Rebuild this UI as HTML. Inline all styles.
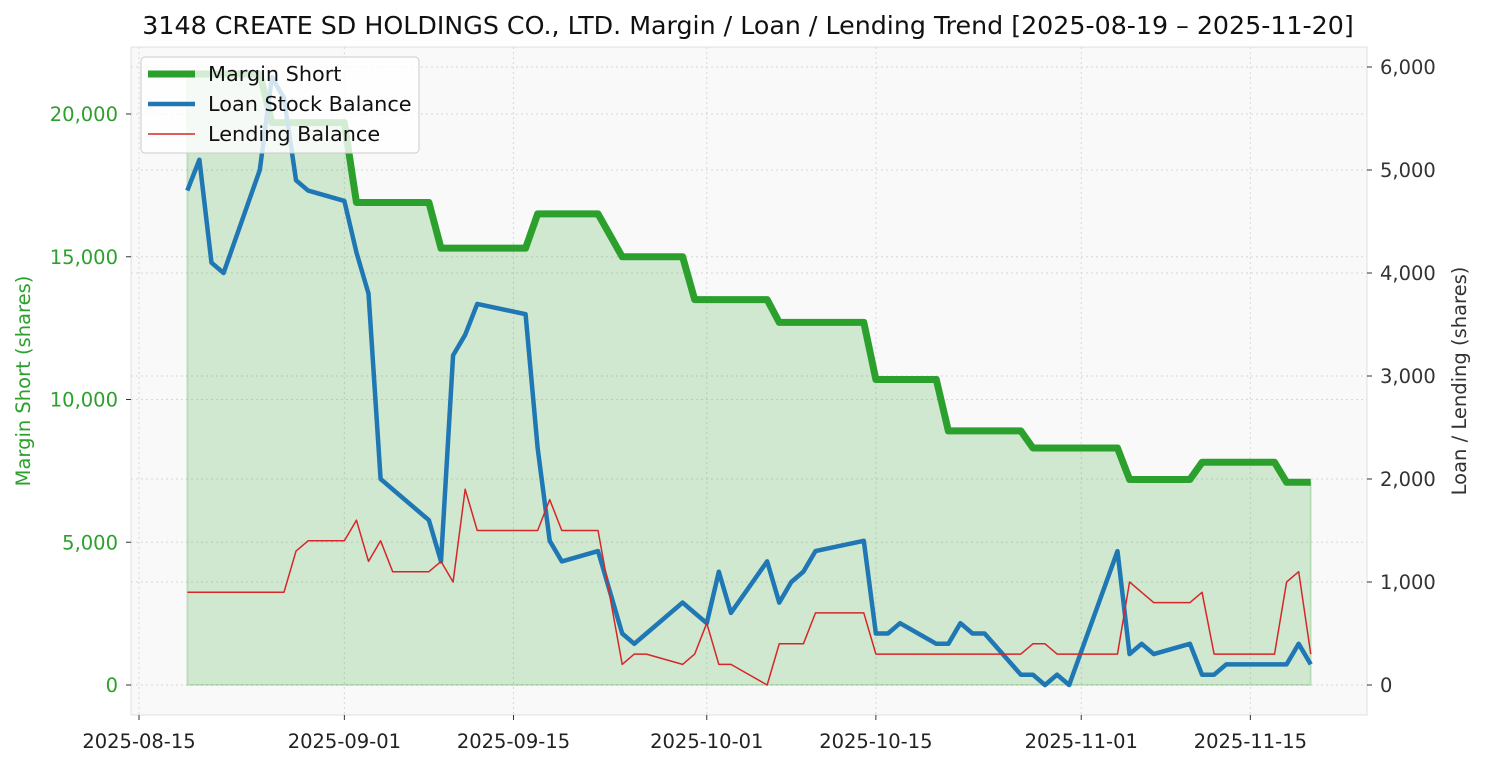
<!DOCTYPE html>
<html><head><meta charset="utf-8"><style>
body{margin:0;background:#fff;font-family:"Liberation Sans","DejaVu Sans",sans-serif;}
svg text{font-family:"DejaVu Sans","Liberation Sans",sans-serif;}
</style></head><body>
<svg id="c" width="1485" height="765" xmlns="http://www.w3.org/2000/svg">
<rect x="0" y="0" width="1485" height="765" fill="#fff"/>
<rect x="131" y="47" width="1236" height="668" fill="#f9f9f9" stroke="#e0e0e0"/>
<text x="748" y="34" font-size="25.3" text-anchor="middle" fill="#111">3148 CREATE SD HOLDINGS CO., LTD. Margin / Loan / Lending Trend [2025-08-19 – 2025-11-20]</text>
<g id="grid"></g><g id="fill"></g><g id="lines"></g><g id="axes"></g>
<text transform="translate(30,381) rotate(-90)" font-size="19.5" text-anchor="middle" fill="#2ca02c">Margin Short (shares)</text>
<text transform="translate(1466,381) rotate(-90)" font-size="19.5" text-anchor="middle" fill="#333">Loan / Lending (shares)</text>
<g>
<rect x="141" y="57" width="278" height="96" rx="4" fill="#fff" fill-opacity="0.8" stroke="#ccc"/>
<line x1="148" y1="74" x2="195" y2="74" stroke="#2ca02c" stroke-width="7"/>
<text x="208" y="81" font-size="20.8" fill="#111">Margin Short</text>
<line x1="148" y1="104" x2="195" y2="104" stroke="#1f77b4" stroke-width="4.5"/>
<text x="208" y="111" font-size="20.8" fill="#111">Loan Stock Balance</text>
<line x1="148" y1="134" x2="195" y2="134" stroke="#d62728" stroke-width="1.5"/>
<text x="208" y="141" font-size="20.8" fill="#111">Lending Balance</text>
</g>
</svg>
<script>
const dates=["08-19","08-20","08-21","08-22","08-25","08-26","08-27","08-28","08-29",
"09-01","09-02","09-03","09-04","09-05","09-08","09-09","09-10","09-11","09-12","09-16","09-17","09-18","09-19","09-22","09-24","09-25","09-26","09-29","09-30",
"10-01","10-02","10-03","10-06","10-07","10-08","10-09","10-10","10-14","10-15","10-16","10-17","10-20","10-21","10-22","10-23","10-24","10-27","10-28","10-29","10-30","10-31",
"11-04","11-05","11-06","11-07","11-10","11-11","11-12","11-13","11-14","11-17","11-18","11-19","11-20"];
const marginShort=[21400,21400,21400,21400,21400,19700,19700,19700,19700,
19700,16900,16900,16900,16900,16900,15300,15300,15300,15300,15300,16500,16500,16500,16500,15000,15000,15000,15000,13500,
13500,13500,13500,13500,12700,12700,12700,12700,12700,10700,10700,10700,10700,8900,8900,8900,8900,8900,8300,8300,8300,8300,
8300,7200,7200,7200,7200,7800,7800,7800,7800,7800,7100,7100,7100];
const loanStock=[4800,5100,4100,4000,5000,5900,5700,4900,4800,
4700,4200,3800,2000,1900,1600,1200,3200,3400,3700,3600,2300,1400,1200,1300,500,400,500,800,700,
600,1100,700,1200,800,1000,1100,1300,1400,500,500,600,400,400,600,500,500,100,100,0,100,0,
1300,300,400,300,400,100,100,200,200,200,200,400,200];
const lending=[900,900,900,900,900,900,900,1300,1400,
1400,1600,1200,1400,1100,1100,1200,1000,1900,1500,1500,1500,1800,1500,1500,200,300,300,200,300,
600,200,200,0,400,400,400,700,700,300,300,300,300,300,300,300,300,300,400,400,300,300,
300,1000,900,800,800,900,300,300,300,300,1000,1100,300];
const leftTicks=[0,5000,10000,15000,20000];
const rightTicks=[0,1000,2000,3000,4000,5000,6000];
const xTicks=["2025-08-15","2025-09-01","2025-09-15","2025-10-01","2025-10-15","2025-11-01","2025-11-15"];

const NS="http://www.w3.org/2000/svg";
const base=Date.UTC(2025,7,15);
function dayOf(s){const p=s.split("-").map(Number);return p.length===3?(Date.UTC(p[0],p[1]-1,p[2])-base)/864e5:(Date.UTC(2025,p[0]-1,p[1])-base)/864e5;}
const X=d=>139+12.08*dayOf(d);
const YL=v=>685-v*(571/20000);
const YR=v=>685-v*(618/6000);
function mk(tag,attrs,parent){const e=document.createElementNS(NS,tag);for(const k in attrs)e.setAttribute(k,attrs[k]);document.getElementById(parent).appendChild(e);return e;}
function fmt(v){return v.toLocaleString("en-US");}
xTicks.forEach(t=>{const x=X(t);
 const g=mk("line",{x1:x,x2:x,y1:47,y2:715,stroke:"#d8d8d8","stroke-dasharray":"2,3"},"grid");
 
 
 mk("line",{x1:x,x2:x,y1:715,y2:720,stroke:"#333"},"axes");
 const tx=mk("text",{x:x,y:748,"font-size":19.5,"text-anchor":"middle",fill:"#222"},"axes");tx.textContent=t;
 
 
});
leftTicks.forEach(v=>{const y=YL(v);
 const g=mk("line",{x1:131,x2:1367,y1:y,y2:y,stroke:"#d8d8d8","stroke-dasharray":"2,3"},"grid");
 
 
 mk("line",{x1:126,x2:131,y1:y,y2:y,stroke:"#333"},"axes");
 const tx=mk("text",{x:118,y:y+7,"font-size":19.5,"text-anchor":"end",fill:"#2ca02c"},"axes");tx.textContent=fmt(v);
 
 
});
rightTicks.forEach(v=>{const y=YR(v);
 const g=mk("line",{x1:131,x2:1367,y1:y,y2:y,stroke:"#d8d8d8","stroke-dasharray":"2,3"},"grid");
 
 
 mk("line",{x1:1367,x2:1372,y1:y,y2:y,stroke:"#333"},"axes");
 const tx=mk("text",{x:1380,y:y+7,"font-size":19.5,"text-anchor":"start",fill:"#333"},"axes");tx.textContent=fmt(v);
 
 
});
let fp="M"+X(dates[0])+","+YL(0);
dates.forEach((d,i)=>{fp+=" L"+X(d)+","+YL(marginShort[i]);});
fp+=" L"+X(dates[dates.length-1])+","+YL(0)+" Z";
const f=mk("path",{d:fp,fill:"#2ca02c","fill-opacity":0.2,stroke:"#2ca02c","stroke-opacity":0.2,"stroke-width":2},"fill");


function line(vals,Y,color,w,name){
 const pts=dates.map((d,i)=>X(d)+","+Y(vals[i])).join(" ");
 const p=mk("polyline",{points:pts,fill:"none",stroke:color,"stroke-width":w,"stroke-linejoin":"round"},"lines");
 
 
}
line(marginShort,YL,"#2ca02c",7,"margin-short-line");
line(loanStock,YR,"#1f77b4",4.5,"loan-stock-line");
line(lending,YR,"#d62728",1.5,"lending-balance-line");
</script>
</body></html>
